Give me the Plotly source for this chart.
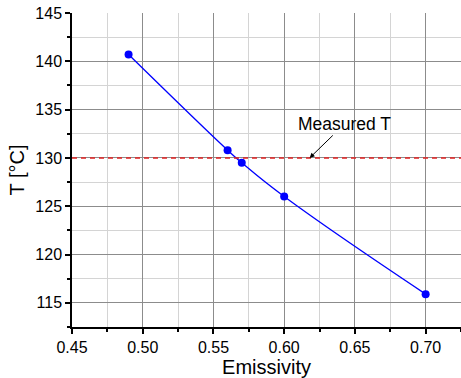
import plotly.graph_objects as go

emissivity = [0.49, 0.56, 0.57, 0.60, 0.70]
temperature = [140.7, 130.8, 129.5, 126.0, 115.9]
measured_T = 130.0
x_range = [0.45, 0.725]
y_range = [112.5, 145]
x_ticks = [0.45, 0.50, 0.55, 0.60, 0.65, 0.70]
y_ticks = [115, 120, 125, 130, 135, 140, 145]
annot_x = 0.618

fig = go.Figure()
fig.add_trace(go.Scatter(
    x=emissivity, y=temperature, mode="lines+markers",
    line=dict(color="#0000ff", width=1.3, shape="spline", smoothing=1.3),
    marker=dict(color="#0000ff", size=8),
    showlegend=False,
))
fig.add_shape(type="line", xref="paper", x0=0, x1=1, yref="y",
              y0=measured_T, y1=measured_T,
              line=dict(color="#e02020", width=1.5, dash="5px,4px"))
fig.add_annotation(x=annot_x, y=measured_T, text="Measured T",
                   showarrow=True, arrowhead=2, arrowsize=1, arrowwidth=1,
                   arrowcolor="black", ax=35, ay=-34,
                   font=dict(family="Liberation Sans, Arial", size=17.5, color="black"))

axis_common = dict(
    showline=True, linecolor="black", linewidth=1.5,
    ticks="outside", ticklen=5, tickwidth=1.5, tickcolor="black",
    showgrid=True, gridcolor="#8c8c8c", gridwidth=1,
    zeroline=False, mirror=False,
    tickfont=dict(family="Liberation Sans, Arial", size=16, color="black"),
)

fig.update_xaxes(
    range=x_range, tickvals=x_ticks, ticktext=[f"{v:.2f}" for v in x_ticks],
    automargin="left",
    title=dict(text="Emissivity", font=dict(family="Liberation Sans, Arial", size=20, color="black"), standoff=10),
    minor=dict(dtick=0.025, tick0=0.45, showgrid=True, gridcolor="#d4d4d4", gridwidth=1,
               ticks="outside", ticklen=3, tickcolor="black", tickwidth=1.5),
    **axis_common,
)
fig.update_yaxes(
    range=y_range, tickvals=y_ticks,
    automargin="bottom",
    title=dict(text="T [°C]", font=dict(family="Liberation Sans, Arial", size=20, color="black"), standoff=5),
    minor=dict(dtick=2.5, tick0=115, showgrid=True, gridcolor="#d4d4d4", gridwidth=1,
               ticks="outside", ticklen=3, tickcolor="black", tickwidth=1.5),
    **axis_common,
)

fig.update_layout(
    width=461, height=378,
    margin=dict(l=72, r=0, t=13, b=51, pad=0),
    plot_bgcolor="white", paper_bgcolor="white",
    font=dict(family="Liberation Sans, Arial", color="black"),
)

fig.write_html("out.html")
